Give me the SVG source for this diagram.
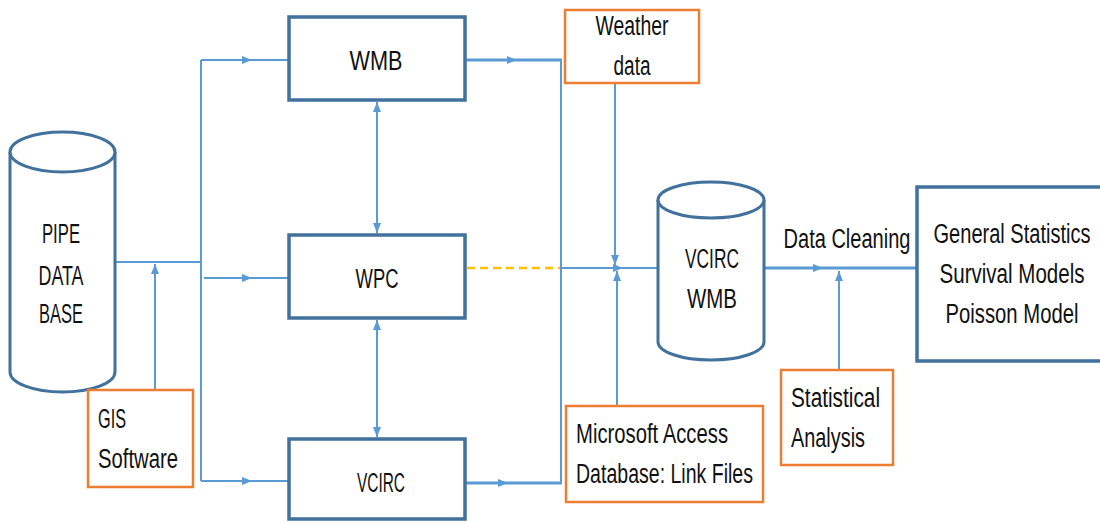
<svg xmlns="http://www.w3.org/2000/svg" width="1100" height="522" viewBox="0 0 1100 522">
<style>
.box{fill:#fff;stroke:#41719C;stroke-width:3.5}
.obox{fill:#fff;stroke:#ED7D31;stroke-width:2.5}
.cyl{fill:#fff;stroke:#41719C;stroke-width:3}
.ln{fill:none;stroke:#5B9BD5;stroke-width:2}
.thk{fill:none;stroke:#5B9BD5;stroke-width:3}
.t{font-family:"Liberation Sans",Arial,sans-serif;font-size:27px;fill:#111}
.c{text-anchor:middle}
</style>
<defs>
<marker id="ah" viewBox="0 0 10 10" refX="5" refY="5" markerWidth="10" markerHeight="10" markerUnits="userSpaceOnUse" orient="auto"><path d="M0,1 L10,5 L0,9 Z" fill="#5B9BD5"/></marker>
<marker id="ae" viewBox="0 0 10 10" refX="10" refY="5" markerWidth="10" markerHeight="10" markerUnits="userSpaceOnUse" orient="auto"><path d="M0,1 L10,5 L0,9 Z" fill="#5B9BD5"/></marker>
<marker id="as" viewBox="0 0 10 10" refX="10" refY="5" markerWidth="10" markerHeight="10" markerUnits="userSpaceOnUse" orient="auto-start-reverse"><path d="M0,1 L10,5 L0,9 Z" fill="#5B9BD5"/></marker>
</defs>
<g id="connectors">
<path class="ln" d="M115,262 L201,262"/>
<path class="ln" d="M201,60 L201,481"/>
<path class="ln" d="M201,60 L247,60 L289,60" marker-mid="url(#ah)"/>
<path class="ln" d="M204,278 L247,278 L289,278" marker-mid="url(#ah)"/>
<path class="ln" d="M201,481 L247,481 L289,481" marker-mid="url(#ah)"/>
<path class="ln" d="M155,390 L155,264" marker-end="url(#ae)"/>
<path class="thk" d="M465,60 L512,60 L562,60" marker-mid="url(#ah)"/>
<path class="thk" d="M465,483 L503,483 L562,483" marker-mid="url(#ah)"/>
<path class="ln" d="M561,60 L561,484"/>
<path class="ln" d="M377,102 L377,233" marker-start="url(#as)" marker-end="url(#ae)"/>
<path class="ln" d="M377,320 L377,437" marker-start="url(#as)" marker-end="url(#ae)"/>
<path fill="none" stroke="#FFC000" stroke-width="2.5" stroke-dasharray="8,5" d="M467,268 L560,268"/>
<path class="ln" d="M561,268 L618,268 L658,268" marker-mid="url(#ah)"/>
<path class="ln" d="M615,83 L615,265" marker-end="url(#ae)"/>
<path class="ln" d="M617,405 L617,271" marker-end="url(#ae)"/>
<path class="thk" d="M765,268 L818,268 L917,268" marker-mid="url(#ah)"/>
<path class="ln" d="M839,370 L839,271" marker-end="url(#ae)"/>
</g>
<g id="pipe-db">
<path class="cyl" d="M10,152 L10,372 A52.5,20 0 0,0 115,372 L115,152"/>
<ellipse class="cyl" cx="62.5" cy="152" rx="52.5" ry="20"/>
<text class="t c" transform="translate(61,243) scale(0.75,1)" textLength="50.7" lengthAdjust="spacingAndGlyphs">PIPE</text>
<text class="t c" transform="translate(61,285) scale(0.75,1)" textLength="60" lengthAdjust="spacingAndGlyphs">DATA</text>
<text class="t c" transform="translate(61,323) scale(0.75,1)" textLength="58.7" lengthAdjust="spacingAndGlyphs">BASE</text>
</g>
<g id="gis">
<rect class="obox" x="88" y="390" width="105" height="97"/>
<text class="t" transform="translate(98,428) scale(0.75,1)" textLength="37.3" lengthAdjust="spacingAndGlyphs">GIS</text>
<text class="t" transform="translate(98,468) scale(0.75,1)" textLength="106.7" lengthAdjust="spacingAndGlyphs">Software</text>
</g>
<g id="wmb">
<rect class="box" x="289" y="17" width="176" height="83"/>
<text class="t c" transform="translate(376,70) scale(0.75,1)" textLength="70.7" lengthAdjust="spacingAndGlyphs">WMB</text>
</g>
<g id="wpc">
<rect class="box" x="289" y="235" width="176" height="83"/>
<text class="t c" transform="translate(377,288) scale(0.75,1)" textLength="57.3" lengthAdjust="spacingAndGlyphs">WPC</text>
</g>
<g id="vcirc">
<rect class="box" x="289" y="439" width="176" height="80"/>
<text class="t c" transform="translate(381,492) scale(0.75,1)" textLength="64" lengthAdjust="spacingAndGlyphs">VCIRC</text>
</g>
<g id="weather">
<rect class="obox" x="565" y="10" width="134" height="73"/>
<text class="t c" transform="translate(632,35) scale(0.75,1)" textLength="97.3" lengthAdjust="spacingAndGlyphs">Weather</text>
<text class="t c" transform="translate(632,75) scale(0.75,1)" textLength="49.3" lengthAdjust="spacingAndGlyphs">data</text>
</g>
<g id="access">
<rect class="obox" x="566" y="406" width="197" height="96"/>
<text class="t" transform="translate(576,443) scale(0.75,1)" textLength="202.7" lengthAdjust="spacingAndGlyphs">Microsoft Access</text>
<text class="t" transform="translate(576,483) scale(0.75,1)" textLength="236" lengthAdjust="spacingAndGlyphs">Database: Link Files</text>
</g>
<g id="vcirc-wmb">
<path class="cyl" d="M658,200 L658,342 A53,18 0 0,0 764,342 L764,200"/>
<ellipse class="cyl" cx="711" cy="200" rx="53" ry="18"/>
<text class="t c" transform="translate(712,268) scale(0.75,1)" textLength="72" lengthAdjust="spacingAndGlyphs">VCIRC</text>
<text class="t c" transform="translate(712,308) scale(0.75,1)" textLength="66.7" lengthAdjust="spacingAndGlyphs">WMB</text>
</g>
<g id="data-cleaning">
<text class="t c" transform="translate(847,248) scale(0.75,1)" textLength="169.3" lengthAdjust="spacingAndGlyphs">Data Cleaning</text>
</g>
<g id="stat">
<rect class="obox" x="781" y="370" width="112" height="95"/>
<text class="t" transform="translate(791,407) scale(0.75,1)" textLength="118.7" lengthAdjust="spacingAndGlyphs">Statistical</text>
<text class="t" transform="translate(791,447) scale(0.75,1)" textLength="98.7" lengthAdjust="spacingAndGlyphs">Analysis</text>
</g>
<g id="models">
<rect class="box" x="917" y="187" width="200" height="174"/>
<text class="t c" transform="translate(1012,243) scale(0.75,1)" textLength="209.3" lengthAdjust="spacingAndGlyphs">General Statistics</text>
<text class="t c" transform="translate(1012,283) scale(0.75,1)" textLength="193.3" lengthAdjust="spacingAndGlyphs">Survival Models</text>
<text class="t c" transform="translate(1012,323) scale(0.75,1)" textLength="177.3" lengthAdjust="spacingAndGlyphs">Poisson Model</text>
</g>
</svg>
